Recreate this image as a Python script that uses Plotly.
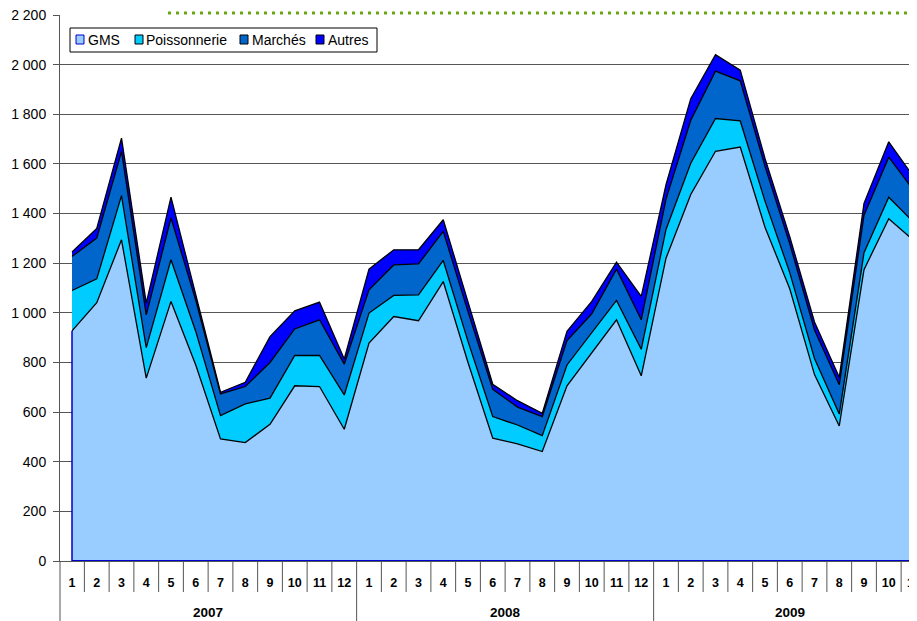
import plotly.graph_objects as go

# ---------------- data (tonnes, monthly, 2007-01 .. 2009-11) ----------------
years = ["2007", "2008", "2009"]
months = [str(m) for m in range(1, 13)] * 2 + [str(m) for m in range(1, 12)]

gms = [927, 1041, 1294, 737, 1046, 790, 492, 477, 551, 706, 703, 531,
       878, 985, 968, 1126, 800, 495, 472, 441, 706, 837, 972, 746,
       1220, 1477, 1651, 1668, 1345, 1097, 751, 544, 1174, 1379, 1292]
poissonnerie = [163, 96, 178, 123, 168, 135, 94, 156, 105, 122, 125, 138,
                121, 85, 104, 85, 85, 87, 76, 64, 84, 81, 78, 107,
                116, 126, 132, 105, 105, 65, 65, 48, 68, 87, 73]
marches = [137, 164, 178, 132, 168, 125, 87, 70, 144, 107, 144, 124,
           94, 123, 125, 117, 120, 110, 72, 77, 98, 78, 126, 119,
           122, 173, 191, 162, 140, 116, 115, 118, 151, 161, 129]
autres = [18, 39, 54, 47, 84, 25, 7, 17, 104, 73, 71, 21,
          83, 61, 57, 47, 40, 20, 26, 13, 37, 50, 28, 94,
          58, 87, 66, 43, 32, 29, 32, 30, 48, 62, 55]

series_names = ["GMS", "Poissonnerie", "Marchés", "Autres"]
series_vals = [gms, poissonnerie, marches, autres]
series_colors = ["#99CCFF", "#00CCFF", "#0066CC", "#0000FF"]

y_ticks = list(range(0, 2201, 200))
y_ticktext = [f"{v:,}".replace(",", " ") for v in y_ticks]

# ---------------- layout geometry ----------------
# The page body has an 8px margin, so the figure is drawn 8px smaller and
# all screen positions below are converted with OFF.
OFF = 8
SW, SH = 917, 621                 # screen size
W, H = SW - OFF, SH - OFF          # figure size
S_LEFT, S_RIGHT, S_TOP, S_BOT = 60, 917, 15, 561   # plot area on screen
ML, MR, MT, MB = S_LEFT - OFF, SW - S_RIGHT, S_TOP - OFF, SH - S_BOT
PW, PH = S_RIGHT - S_LEFT, S_BOT - S_TOP
CAT_W = 24.75          # pixel width of one month
FIRST_C = 72           # screen pixel centre of first month
x_lo = (S_LEFT - FIRST_C) / CAT_W
x_hi = (S_RIGHT - FIRST_C) / CAT_W


def px(xs):
    return (xs - S_LEFT) / PW


def py(ys):
    return (S_BOT - ys) / PH


FONT = "Arial, Liberation Sans, sans-serif"
x = list(range(len(gms)))

fig = go.Figure()
for name, vals, col in zip(series_names, series_vals, series_colors):
    fig.add_trace(go.Scatter(
        x=x, y=vals, name=name, stackgroup="one", mode="lines",
        line=dict(color="black", width=1.3), fillcolor=col,
        showlegend=False,
    ))

shapes = []
# month separators below axis
n = len(gms)
for i in range(n):
    b = i + 0.5
    if b > x_hi:
        break
    long_sep = (i + 1) % 12 == 0
    shapes.append(dict(type="line", xref="x", yref="paper", x0=b, x1=b,
                       y0=0, y1=py(625) if long_sep else py(592),
                       line=dict(color="#555555", width=1)))
# extended y-axis line
shapes.append(dict(type="line", xref="paper", yref="paper", x0=0, x1=0,
                   y0=py(625), y1=0, line=dict(color="#555555", width=1)))
# blue area border (left, right, bottom)
shapes.append(dict(type="line", xref="x", yref="y", x0=x[0], x1=x[0], y0=0,
                   y1=gms[0], line=dict(color="#0000CC", width=1.5)))
shapes.append(dict(type="line", xref="x", yref="y", x0=x[-1], x1=x[-1], y0=0,
                   y1=gms[-1], line=dict(color="#0000CC", width=1.5)))
shapes.append(dict(type="line", xref="x", yref="y", x0=x[0], x1=x[-1], y0=0,
                   y1=0, line=dict(color="#0000CC", width=2)))
# green dotted line at top
shapes.append(dict(type="line", xref="paper", yref="paper", x0=px(168), x1=1.0,
                   y0=py(13), y1=py(13),
                   line=dict(color="#66AA11", width=3, dash="3px,5px")))

# custom legend
shapes.append(dict(type="rect", xref="paper", yref="paper", x0=px(70), x1=px(377),
                   y0=py(52), y1=py(28), line=dict(color="black", width=1),
                   fillcolor="white", layer="above"))
legend_sq_x = [76, 135, 240, 316]
legend_txt_x = [86, 144, 250, 326]
sq_border = ["#0000CC", "black", "black", "black"]
annotations = []
for name, col, sx, tx, bc in zip(series_names, series_colors, legend_sq_x,
                                 legend_txt_x, sq_border):
    shapes.append(dict(type="rect", xref="paper", yref="paper", x0=px(sx),
                       x1=px(sx + 8), y0=py(44), y1=py(35),
                       line=dict(color=bc, width=1), fillcolor=col, layer="above"))
    annotations.append(dict(xref="paper", yref="paper", x=px(tx), y=py(40),
                            text=name, showarrow=False, xanchor="left",
                            yanchor="middle",
                            font=dict(family=FONT, size=14, color="black")))

# year labels
year_x = [5.5, 17.5, 29]
for yr, yx in zip(years, year_x):
    annotations.append(dict(xref="x", yref="paper", x=yx, y=py(612), text=yr,
                            showarrow=False, xanchor="center", yanchor="middle",
                            font=dict(family=FONT, size=13.5, color="black",
                                      weight="bold")))
# unit label (partly cut at right edge)
annotations.append(dict(xref="paper", yref="paper", x=px(909), y=py(543),
                        text="tonnes", textangle=-90, showarrow=False,
                        xanchor="left", yanchor="middle",
                        font=dict(family=FONT, size=10, color="#333333")))

fig.update_layout(
    width=W, height=H,
    margin=dict(l=ML, r=MR, t=MT, b=MB, pad=0, autoexpand=False),
    paper_bgcolor="white", plot_bgcolor="white",
    showlegend=False,
    shapes=shapes, annotations=annotations,
    xaxis=dict(range=[x_lo, x_hi], tickmode="array", tickvals=x,
               ticktext=months, ticks="", showgrid=False, zeroline=False,
               showline=True, linecolor="#555555", linewidth=1,
               tickfont=dict(family=FONT, size=12.5, color="black", weight="bold"),
               ticklabelstandoff=10, ticklabeloverflow="allow",
               fixedrange=True, automargin=False),
    yaxis=dict(range=[0, 2200], tickmode="array", tickvals=y_ticks,
               ticktext=y_ticktext, ticks="outside", ticklen=6,
               tickcolor="#555555", showgrid=True, gridcolor="#555555",
               gridwidth=1, zeroline=False, showline=True, linecolor="#555555",
               linewidth=1, tickfont=dict(family=FONT, size=14, color="black"),
               ticklabelstandoff=4, ticklabeloverflow="allow",
               fixedrange=True, automargin=False),
)

fig.write_html("out.html")
